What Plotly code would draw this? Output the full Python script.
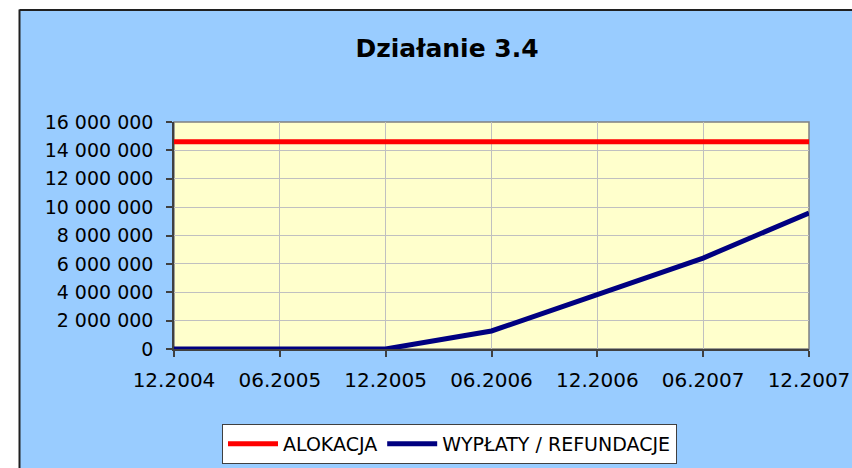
import plotly.graph_objects as go

categories = ["12.2004", "06.2005", "12.2005", "06.2006", "12.2006", "06.2007", "12.2007"]
alokacja = [14600000, 14600000, 14600000, 14600000, 14600000, 14600000, 14600000]
wyplaty = [0, 0, 0, 1270000, 3800000, 6410000, 9590000]
y_ticks = [0, 2000000, 4000000, 6000000, 8000000, 10000000, 12000000, 14000000, 16000000]

W, H = 852, 468
L, R, T, B = 174, 809, 122, 349
pw, ph = R - L, B - T

def px_x(x):
    return (x - L) / pw

def px_y(y):
    return (B - y) / ph

FONT = "DejaVu Sans"

fig = go.Figure()
fig.add_trace(go.Scatter(x=categories, y=alokacja, mode="lines", name="ALOKACJA",
                         line=dict(color="#FF0000", width=5)))
fig.add_trace(go.Scatter(x=categories, y=wyplaty, mode="lines", name="WYPŁATY / REFUNDACJE",
                         line=dict(color="#000080", width=5)))

shapes = [
    dict(type="rect", xref="paper", yref="paper", x0=px_x(-50), x1=px_x(19), y0=px_y(600), y1=px_y(-50),
         fillcolor="white", line=dict(width=0), layer="above"),
    dict(type="rect", xref="paper", yref="paper", x0=px_x(-50), x1=px_x(900), y0=px_y(10), y1=px_y(-50),
         fillcolor="white", line=dict(width=0), layer="above"),
    dict(type="line", xref="paper", yref="paper", x0=px_x(19.5), x1=px_x(19.5), y0=px_y(9.5), y1=px_y(600),
         line=dict(color="#202020", width=2), layer="above"),
    dict(type="line", xref="paper", yref="paper", x0=px_x(19.5), x1=px_x(900), y0=px_y(10), y1=px_y(10),
         line=dict(color="#202020", width=2), layer="above"),
    dict(type="rect", xref="paper", yref="paper", x0=0, x1=1, y0=0, y1=1,
         line=dict(color="#808080", width=1.5), layer="below"),
]

fig.update_layout(
    width=W, height=H,
    margin=dict(l=L, r=W - R, t=T, b=H - B, autoexpand=False),
    paper_bgcolor="#99CCFF",
    plot_bgcolor="#FFFFCC",
    separators=", ",
    font=dict(family=FONT, color="#000000", size=19),
    title=dict(text="<b>Działanie 3.4</b>", x=447 / W, xref="container",
               xanchor="center", y=1 - 48 / H, yanchor="middle",
               font=dict(family=FONT, size=25, color="#000000")),
    showlegend=True,
    legend=dict(orientation="h", xref="container", yref="container",
                x=222 / W, xanchor="left", y=1 - 424 / H, yanchor="top",
                bgcolor="white", bordercolor="#404040", borderwidth=1,
                font=dict(family=FONT, size=19, color="#000000"),
                itemwidth=50, tracegroupgap=0),
    shapes=shapes,
)

fig.update_xaxes(type="category", categoryorder="array", categoryarray=categories,
                 range=[0, len(categories) - 1], automargin=False,
                 showgrid=True, gridcolor="#C0C0C0", gridwidth=1,
                 showline=True, linecolor="#404040", linewidth=1.5,
                 ticks="outside", ticklen=6, tickcolor="#404040", tickwidth=1.5,
                 ticklabelstandoff=6,
                 tickfont=dict(family=FONT, size=20, color="#000000"), zeroline=False)
fig.update_yaxes(range=[0, 16000000], tickvals=y_ticks, tickformat=",d", automargin=False,
                 showgrid=True, gridcolor="#C0C0C0", gridwidth=1,
                 showline=True, linecolor="#404040", linewidth=1.5,
                 ticks="outside", ticklen=6, tickcolor="#404040", tickwidth=1.5,
                 ticklabelstandoff=9,
                 tickfont=dict(family=FONT, size=19, color="#000000"), zeroline=False)

fig.write_html("out.html", config={"displayModeBar": False},
               post_script="document.body.style.margin='0';document.body.style.overflow='hidden';")
